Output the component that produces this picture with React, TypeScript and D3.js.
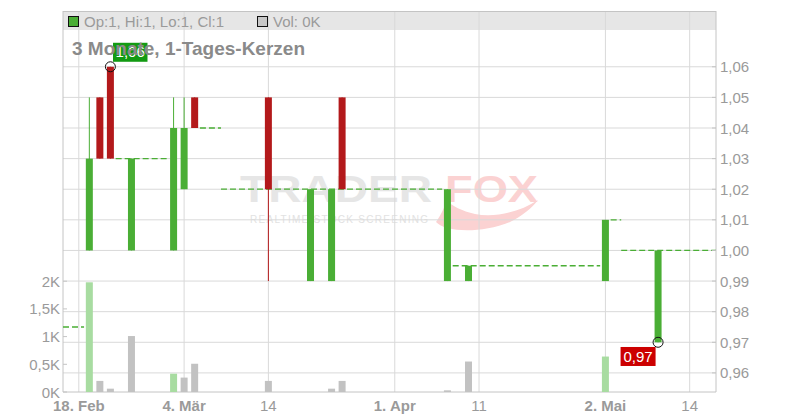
import React from "react";
import * as d3 from "d3";

// ---------- DATA ----------
const tradingDays = [
  "2025-02-17","2025-02-18","2025-02-19","2025-02-20","2025-02-21",
  "2025-02-24","2025-02-25","2025-02-26","2025-02-27","2025-02-28",
  "2025-03-03","2025-03-04","2025-03-05","2025-03-06","2025-03-07",
  "2025-03-10","2025-03-11","2025-03-12","2025-03-13","2025-03-14",
  "2025-03-17","2025-03-18","2025-03-19","2025-03-20","2025-03-21",
  "2025-03-24","2025-03-25","2025-03-26","2025-03-27","2025-03-28",
  "2025-03-31","2025-04-01","2025-04-02","2025-04-03","2025-04-04",
  "2025-04-07","2025-04-08","2025-04-09","2025-04-10","2025-04-11",
  "2025-04-14","2025-04-15","2025-04-16","2025-04-17",
  "2025-04-22","2025-04-23","2025-04-24","2025-04-25",
  "2025-04-28","2025-04-29","2025-04-30",
  "2025-05-02","2025-05-05","2025-05-06","2025-05-07","2025-05-08","2025-05-09",
  "2025-05-12","2025-05-13","2025-05-14","2025-05-15","2025-05-16",
];

const candleDates = [
  "2025-02-19","2025-02-20","2025-02-21","2025-02-25","2025-03-03",
  "2025-03-04","2025-03-05","2025-03-14","2025-03-20","2025-03-24",
  "2025-03-25","2025-04-08","2025-04-10","2025-05-02","2025-05-09",
];
const candleOpen  = [1.00,1.05,1.06,1.00,1.00,1.02,1.05,1.05,0.99,0.99,1.05,0.99,0.99,0.99,0.97];
const candleHigh  = [1.05,1.05,1.06,1.03,1.05,1.05,1.05,1.05,1.02,1.02,1.05,1.02,0.995,1.01,1.00];
const candleLow   = [1.00,1.03,1.03,1.00,1.00,1.02,1.04,0.99,0.99,0.99,1.02,0.99,0.99,0.99,0.97];
const candleClose = [1.03,1.03,1.03,1.03,1.04,1.04,1.04,1.02,1.02,1.02,1.02,1.02,0.995,1.01,1.00];
const candleDir   = ["up","down","down","up","up","up","down","down","up","up","down","up","up","up","up"];

// flat (no-trade) stretches: first day, last day, price
const flatStart = ["2025-02-17","2025-02-24","2025-03-06","2025-03-10","2025-04-09","2025-05-05","2025-05-06"];
const flatEnd   = ["2025-02-18","2025-02-28","2025-03-07","2025-04-07","2025-04-30","2025-05-05","2025-05-16"];
const flatPrice = [0.975, 1.03, 1.04, 1.02, 0.995, 1.01, 1.00];

const volumeDates = [
  "2025-02-19","2025-02-20","2025-02-21","2025-02-25","2025-03-03","2025-03-04",
  "2025-03-05","2025-03-14","2025-03-24","2025-03-25","2025-04-08","2025-04-10","2025-05-02",
];
const volumeValues = [1980, 200, 60, 1010, 330, 260, 510, 200, 60, 200, 30, 550, 640];
const volumeKind = ["buy","other","other","other","buy","other","other","other","other","other","other","other","buy"];

const xTickDates  = ["2025-02-18","2025-03-04","2025-03-14","2025-04-01","2025-04-11","2025-05-02","2025-05-14"];
const xTickLabels = ["18. Feb","4. Mär","14","1. Apr","11","2. Mai","14"];
const priceTicks = [0.96,0.97,0.98,0.99,1.00,1.01,1.02,1.03,1.04,1.05,1.06];
const volumeTicks = [0, 500, 1000, 1500, 2000];
const volumeTickLabels = ["0K","0,5K","1K","1,5K","2K"];

const maxPoint = { date: "2025-02-21", price: 1.06, label: "1,06" };
const minPoint = { date: "2025-05-09", price: 0.97, label: "0,97" };

const title = "3 Monate, 1-Tages-Kerzen";
const legendOHLC = "Op:1, Hi:1, Lo:1, Cl:1";
const legendVol = "Vol: 0K";

// ---------- LAYOUT ----------
const W = 800, H = 420;
const L = 63, R = 716, T = 11, B = 392;
const FONT = "'Liberation Sans', Arial, Helvetica, sans-serif";
const GREEN = "#4aae35", RED = "#b3191b";
const GRID = "#d9d9d9", AXIS = "#c4c4c4", TXT = "#9a9a9a";

export default function App() {
  const x = d3.scaleBand<string>().domain(tradingDays).range([L, R]).padding(0);
  const cx = (d: string) => (x(d) as number) + x.bandwidth() / 2;
  const y = d3.scaleLinear().domain([0.95376, 1.07822]).range([B, T]);
  const yv = d3.scaleLinear().domain([0, 2000]).range([B, 281.2]);
  const fmtP = (v: number) => d3.format(".2f")(v).replace(".", ",");
  const bw = 7;

  return (
    <svg width={W} height={H} style={{ position: "absolute", left: 0, top: 0, fontFamily: FONT }}>
      <rect x={0} y={0} width={W} height={H} fill="#fff" />
      {/* header bar */}
      <rect x={L} y={T} width={R - L} height={19} fill="#e6e6e6" />

      {/* watermark */}
      <g>
        <text x={240} y={202} fontSize={36} fontWeight="bold" fill="#e6e6e6" textLength={192} lengthAdjust="spacingAndGlyphs">TRADER</text>
        <text x={445} y={202} fontSize={36} fontWeight="bold" fill="#fbd2d2" textLength={93} lengthAdjust="spacingAndGlyphs">FOX</text>
        <path d="M436,222 C445,232 480,234 510,222 C522,216 532,208 538,200 C520,212 495,218 475,214 C462,211 452,206 446,200 C445,208 440,216 436,222 Z" fill="#fbd2d2" />
        <text x={250} y={223} fontSize={10} fill="#e2e2e2" textLength={178} lengthAdjust="spacing">REALTIME STOCK SCREENING</text>
      </g>

      {/* horizontal grid */}
      {priceTicks.map((p) => (
        <line key={"hg" + p} x1={L} x2={R} y1={y(p)} y2={y(p)} stroke={GRID} strokeWidth={1} />
      ))}
      {/* vertical grid */}
      {xTickDates.map((d) => (
        <line key={"vg" + d} x1={cx(d)} x2={cx(d)} y1={T} y2={B} stroke={GRID} strokeWidth={1} />
      ))}

      {/* axes frame */}
      <line x1={L} x2={R} y1={T + 0.5} y2={T + 0.5} stroke={AXIS} />
      <line x1={L} x2={L} y1={T} y2={B} stroke={AXIS} />
      <line x1={R} x2={R} y1={T} y2={B} stroke={AXIS} />
      <line x1={L} x2={R} y1={B} y2={B} stroke={AXIS} />

      {/* volume bars */}
      {volumeDates.map((d, i) => (
        <rect key={"v" + d} x={cx(d) - bw / 2} width={bw} y={yv(volumeValues[i])} height={B - yv(volumeValues[i])}
          fill={volumeKind[i] === "buy" ? "#a8dca1" : "#c2c2c2"} />
      ))}

      {/* flat dashed stretches */}
      {flatStart.map((s, i) => (
        <line key={"f" + i} x1={x(s) as number} x2={(x(flatEnd[i]) as number) + x.bandwidth()}
          y1={y(flatPrice[i])} y2={y(flatPrice[i])} stroke={GREEN} strokeWidth={1.3} strokeDasharray="6,3" />
      ))}

      {/* candles */}
      {candleDates.map((d, i) => {
        const col = candleDir[i] === "up" ? GREEN : RED;
        const top = y(Math.max(candleOpen[i], candleClose[i]));
        const bot = y(Math.min(candleOpen[i], candleClose[i]));
        return (
          <g key={"c" + d}>
            <line x1={cx(d)} x2={cx(d)} y1={y(candleHigh[i])} y2={y(candleLow[i])} stroke={col} strokeWidth={1} />
            <rect x={cx(d) - bw / 2} width={bw} y={top} height={Math.max(1, bot - top)} fill={col} />
          </g>
        );
      })}

      {/* max / min markers */}
      <circle cx={cx(maxPoint.date)} cy={y(maxPoint.price)} r={5} fill="none" stroke="#111" strokeWidth={1} />
      <rect x={cx(maxPoint.date) + 2.6} y={y(maxPoint.price) - 24} width={34.5} height={19} fill="#139a13" />
      <text x={cx(maxPoint.date) + 19.8} y={y(maxPoint.price) - 9.5} fontSize={15} fill="#fff" textAnchor="middle">{maxPoint.label}</text>

      <circle cx={cx(minPoint.date)} cy={y(minPoint.price)} r={5} fill="none" stroke="#111" strokeWidth={1} />
      <rect x={cx(minPoint.date) - 37.5} y={y(minPoint.price) + 4.7} width={35} height={19} fill="#cc0000" />
      <text x={cx(minPoint.date) - 20} y={y(minPoint.price) + 19.5} fontSize={15} fill="#fff" textAnchor="middle">{minPoint.label}</text>

      {/* right price axis */}
      {priceTicks.map((p) => (
        <g key={"pt" + p}>
          <line x1={R - 4} x2={R} y1={y(p)} y2={y(p)} stroke={AXIS} />
          <text x={R + 4} y={y(p) + 5.5} fontSize={15} fill={TXT}>{fmtP(p)}</text>
        </g>
      ))}

      {/* left volume axis */}
      {volumeTicks.map((v, i) => (
        <g key={"vt" + v}>
          <line x1={L} x2={L + 4} y1={yv(v)} y2={yv(v)} stroke={AXIS} />
          <text x={L - 3} y={yv(v) + 5.5} fontSize={15} fill={TXT} textAnchor="end">{volumeTickLabels[i]}</text>
        </g>
      ))}

      {/* x axis labels */}
      {xTickDates.map((d, i) => (
        <text key={"xt" + d} x={cx(d)} y={411} fontSize={15} fill={TXT} textAnchor="middle"
          fontWeight={xTickLabels[i].includes(".") ? "bold" : "normal"}>{xTickLabels[i]}</text>
      ))}

      {/* legend header */}
      <rect x={68.5} y={16.5} width={10} height={10} fill={GREEN} stroke="#111" strokeWidth={1} />
      <text x={84} y={26.5} fontSize={15} fill={TXT}>{legendOHLC}</text>
      <rect x={257.5} y={16.5} width={10} height={10} fill="#c8c8c8" stroke="#111" strokeWidth={1} />
      <text x={273} y={26.5} fontSize={15} fill={TXT}>{legendVol}</text>

      {/* title */}
      <text x={72} y={54.5} fontSize={19} fontWeight="bold" fill="#8a8a8a">{title}</text>
    </svg>
  );
}
